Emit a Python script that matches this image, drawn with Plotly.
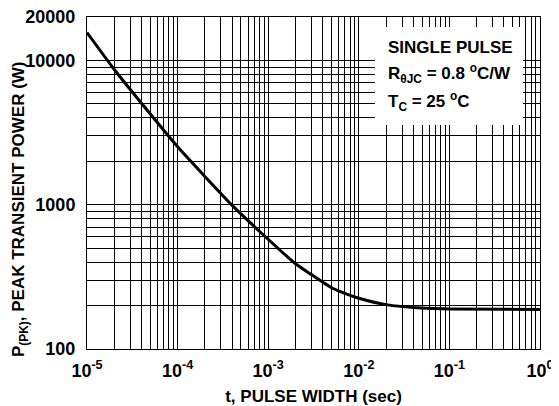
import plotly.graph_objects as go

# Data
pulse_width = [1e-5, 2e-5, 5e-5, 1e-4, 2e-4, 4e-4, 8e-4, 2e-3, 3e-3, 5e-3, 7e-3, 1e-2, 2e-2, 5e-2, 1e-1, 1.0]
peak_power = [15600, 8650, 4250, 2520, 1570, 990, 655, 390, 328, 266, 243, 225, 203, 192, 189, 188]

x_grid_vals = [m * 10.0 ** e for e in range(-5, 0) for m in range(1, 10)] + [1.0]
x_tick_text = [("<b>10<sup>%d</sup></b>" % e if m == 1 else "") for e in range(-5, 0) for m in range(1, 10)] + ["<b>10<sup>0</sup></b>"]

y_grid_vals = [m * 10.0 ** e for e in range(2, 4) for m in range(1, 10)] + [10000, 20000]
y_label_map = {100: "<b>100</b>", 1000: "<b>1000</b>", 10000: "<b>10000</b>", 20000: "<b>20000</b>"}
y_tick_text = [y_label_map.get(int(round(v)), "") for v in y_grid_vals]

info_lines = ["<b>SINGLE PULSE</b>",
              "<b>R<sub>θJC</sub> = 0.8 <sup>o</sup>C/W</b>",
              "<b>T<sub>C</sub> = 25 <sup>o</sup>C</b>"]

FONT = "Liberation Sans, Arial, sans-serif"

# page body has an 8px margin: figure drawn at offset (8, 8)
OFF = 8
W, H = 559 - OFF, 406 - OFF
PL, PR, PT, PB = 87, 540, 17, 349  # plot area in page pixels


def px_x(x):
    return (x - PL) / (PR - PL)


def px_y(y):
    return (PB - y) / (PB - PT)


fig = go.Figure()
fig.add_trace(go.Scatter(x=pulse_width, y=peak_power, mode="lines",
                         line=dict(color="black", width=3, shape="spline", smoothing=0.5),
                         showlegend=False, hoverinfo="skip"))

fig.update_layout(
    template="none",
    width=W, height=H,
    margin=dict(l=PL - OFF, r=559 - PR, t=PT - OFF, b=406 - PB, pad=0, autoexpand=False),
    paper_bgcolor="white", plot_bgcolor="white",
    font=dict(family=FONT, color="black"),
    xaxis=dict(type="log", range=[-5, 0], tickmode="array", tickvals=x_grid_vals, ticktext=x_tick_text,
               showgrid=True, gridcolor="black", gridwidth=1, ticks="", showline=True, linecolor="black",
               linewidth=1, mirror=True, zeroline=False, automargin=False, ticklabelstandoff=5,
               ticklabeloverflow="allow",
               tickfont=dict(size=18, family=FONT),
               title=dict(text="<b>t, PULSE WIDTH (sec)</b>", font=dict(size=17, family=FONT), standoff=13)),
    yaxis=dict(type="log", range=[2, 4.30103], tickmode="array", tickvals=y_grid_vals, ticktext=y_tick_text,
               showgrid=True, gridcolor="black", gridwidth=1, ticks="", showline=True, linecolor="black",
               linewidth=1, mirror=True, zeroline=False, automargin=False, ticklabelstandoff=7,
               ticklabeloverflow="allow",
               tickfont=dict(size=18, family=FONT)),
)

# white box behind the info text
fig.add_shape(type="rect", xref="paper", yref="paper",
              x0=px_x(375), x1=px_x(523), y0=px_y(125), y1=px_y(27),
              fillcolor="white", line=dict(width=0), layer="above")

for txt, yc in zip(info_lines, [47, 73, 102]):
    fig.add_annotation(xref="paper", yref="paper", x=px_x(386), y=px_y(yc),
                       xanchor="left", yanchor="middle", align="left", showarrow=False,
                       text=txt, font=dict(size=17, family=FONT, color="black"))

fig.add_annotation(xref="paper", yref="paper", x=px_x(20), y=px_y(209),
                   xanchor="center", yanchor="middle", textangle=-90, showarrow=False,
                   text="<b>P<sub>(PK)</sub>, PEAK TRANSIENT POWER (W)</b>",
                   font=dict(size=17, family=FONT, color="black"))

fig.write_html("out.html")
